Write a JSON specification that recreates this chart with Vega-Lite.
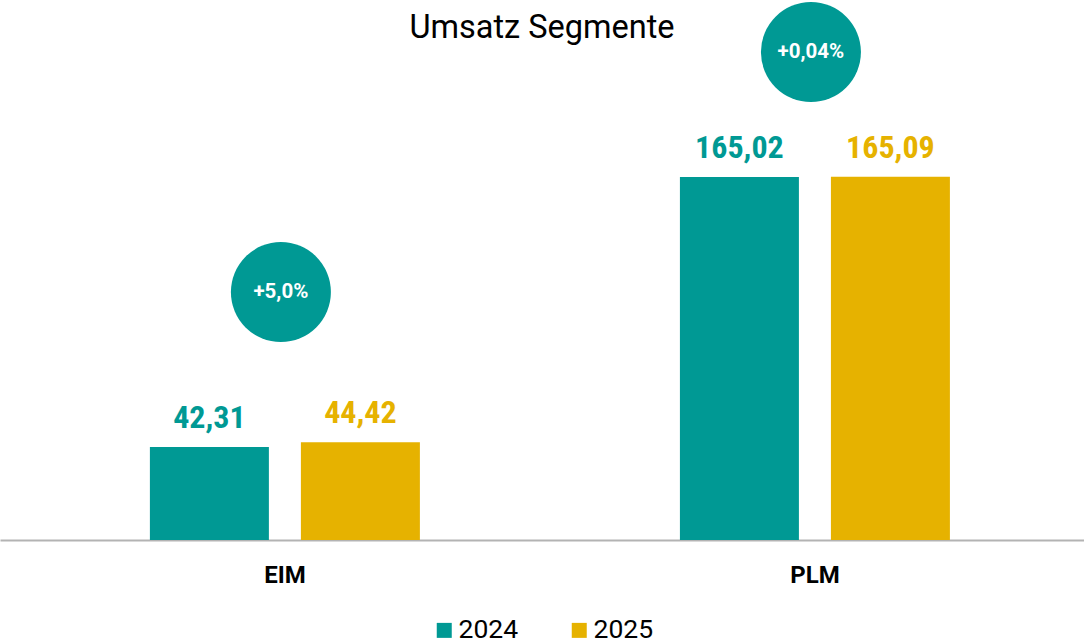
{
  "$schema": "https://vega.github.io/schema/vega-lite/v6.json",
  "width": 1084,
  "height": 540,
  "padding": {"left": 0, "right": 0, "top": 0, "bottom": 0},
  "autosize": {"type": "pad"},
  "title": {"text": "Umsatz Segmente", "fontSize": 32.5, "font": "Roboto", "fontWeight": "normal", "color": "#000000", "anchor": "middle", "offset": -44},
  "datasets": {
    "bars": [
      {"segment": "EIM", "year": "2024", "value": 42.31, "label": "42,31"},
      {"segment": "EIM", "year": "2025", "value": 44.42, "label": "44,42"},
      {"segment": "PLM", "year": "2024", "value": 165.02, "label": "165,02"},
      {"segment": "PLM", "year": "2025", "value": 165.09, "label": "165,09"}
    ],
    "changes": [
      {"segment": "EIM", "pos": 112.7, "change": "+5,0%"},
      {"segment": "PLM", "pos": 221.8, "change": "+0,04%"}
    ]
  },
  "layer": [
    {
      "data": {"name": "bars"},
      "mark": {"type": "bar"},
      "encoding": {
        "x": {"field": "segment", "type": "nominal", "sort": ["EIM", "PLM"],
          "scale": {"paddingInner": 0, "paddingOuter": 0.0226, "align": 0.83},
          "axis": {"title": null, "labelAngle": 0, "labelFontSize": 24, "labelFont": "Roboto", "labelFontWeight": "bold", "labelColor": "#000000", "ticks": false, "domainColor": "#b3b3b3", "domainWidth": 2, "labelPadding": 23}},
        "xOffset": {"field": "year", "type": "nominal", "scale": {"paddingInner": 0.212, "paddingOuter": 0.861}},
        "y": {"field": "value", "type": "quantitative", "scale": {"domain": [0, 245.45], "nice": false, "zero": true}, "axis": null},
        "color": {"field": "year", "type": "nominal",
          "scale": {"domain": ["2024", "2025"], "range": ["#009994", "#E6B200"]},
          "legend": {"title": null, "orient": "none", "legendX": 431, "legendY": 617, "direction": "horizontal", "symbolType": "square", "symbolSize": 225, "symbolOpacity": 1, "labelFontSize": 26.5, "labelFont": "Roboto", "labelColor": "#000000", "columnPadding": 47, "labelOffset": 1}}
      }
    },
    {
      "data": {"name": "bars"},
      "mark": {"type": "text", "font": "Roboto Condensed, Liberation Sans Narrow, Roboto", "fontWeight": "bold", "fontSize": 32, "baseline": "alphabetic", "dy": -19},
      "encoding": {
        "x": {"field": "segment", "type": "nominal", "sort": ["EIM", "PLM"]},
        "xOffset": {"field": "year", "type": "nominal"},
        "y": {"field": "value", "type": "quantitative"},
        "text": {"field": "label"},
        "color": {"field": "year", "type": "nominal", "legend": null}
      }
    },
    {
      "data": {"name": "changes"},
      "mark": {"type": "point", "shape": "circle", "filled": true, "size": 10000, "color": "#009994", "opacity": 1, "xOffset": -4},
      "encoding": {
        "x": {"field": "segment", "type": "nominal", "sort": ["EIM", "PLM"]},
        "y": {"field": "pos", "type": "quantitative"}
      }
    },
    {
      "data": {"name": "changes"},
      "mark": {"type": "text", "font": "Roboto", "fontWeight": "bold", "fontSize": 20.5, "color": "#ffffff", "baseline": "middle", "xOffset": -4},
      "encoding": {
        "x": {"field": "segment", "type": "nominal", "sort": ["EIM", "PLM"]},
        "y": {"field": "pos", "type": "quantitative"},
        "text": {"field": "change"}
      }
    }
  ],
  "config": {"view": {"stroke": null}}
}
